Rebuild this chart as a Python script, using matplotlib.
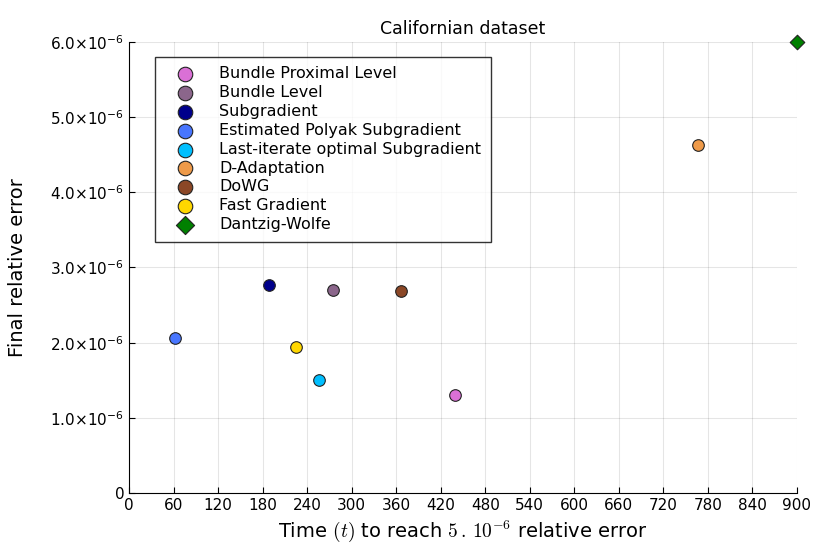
#!/usr/bin/env python3
"""Final relative error vs. time to reach target, Californian dataset."""

import matplotlib

matplotlib.use("Agg")
import matplotlib.pyplot as plt
from matplotlib.ticker import FixedLocator, FuncFormatter

plt.rcParams["font.family"] = ["DejaVu Sans"]
plt.rcParams["mathtext.fontset"] = "dejavusans"

methods = [
    "Bundle Proximal Level",
    "Bundle Level",
    "Subgradient",
    "Estimated Polyak Subgradient",
    "Last-iterate optimal Subgradient",
    "D-Adaptation",
    "DoWG",
    "Fast Gradient",
    "Dantzig-Wolfe",
]
times = [439, 275, 189, 62, 256, 767, 367, 225, 900]
final_err = [1.30e-6, 2.70e-6, 2.77e-6, 2.06e-6, 1.50e-6, 4.63e-6, 2.69e-6, 1.94e-6, 6.0e-6]
colors = ["#DA70D6", "#8B668B", "#00008B", "#4876FF", "#00BFFF",
          "#EE9A49", "#8B4726", "#FFD700", "#008000"]
markers = ["o"] * 8 + ["D"]

x_ticks = list(range(0, 901, 60))
y_ticks = [0, 1e-6, 2e-6, 3e-6, 4e-6, 5e-6, 6e-6]


def _y_fmt(v, pos):
    if v == 0:
        return "0"
    return f"{v * 1e6:.1f}×10$^{{-6}}$"


fig = plt.figure(figsize=(8.14, 5.45), dpi=100)
ax = fig.add_axes([0.1585, 0.0954, 0.8205, 0.8276])

for name, t, e, c, m in zip(methods, times, final_err, colors, markers):
    ax.scatter(t, e, s=70 if m == "o" else 55, color=c, marker=m,
               edgecolors="#222222", linewidths=0.8, label=name, zorder=3,
               clip_on=False)

ax.set_xlim(0, 900)
ax.set_ylim(0, 6e-6)
ax.xaxis.set_major_locator(FixedLocator(x_ticks))
ax.yaxis.set_major_locator(FixedLocator(y_ticks))
ax.yaxis.set_major_formatter(FuncFormatter(_y_fmt))
ax.tick_params(direction="in", length=4, labelsize=11, width=0.8)
ax.grid(True, color="#000000", alpha=0.1, linewidth=0.8)
for side in ("top", "right"):
    ax.spines[side].set_visible(False)

ax.set_title("Californian dataset", fontsize=12.5)
ax.set_xlabel(r"Time $(t)$ to reach $5\,.\,10^{-6}$ relative error", fontsize=14,
              math_fontfamily="cm")
ax.set_ylabel("Final relative error", fontsize=14, labelpad=17)

leg = ax.legend(loc="upper left", bbox_to_anchor=(0.039, 0.967), fontsize=11.5,
                frameon=True, fancybox=False, edgecolor="black",
                borderaxespad=0, borderpad=0.6, labelspacing=0.24,
                handletextpad=0.8, handlelength=2.6, markerscale=1.25)
leg.get_frame().set_linewidth(1.0)

fig.savefig("out.png", dpi=100)
